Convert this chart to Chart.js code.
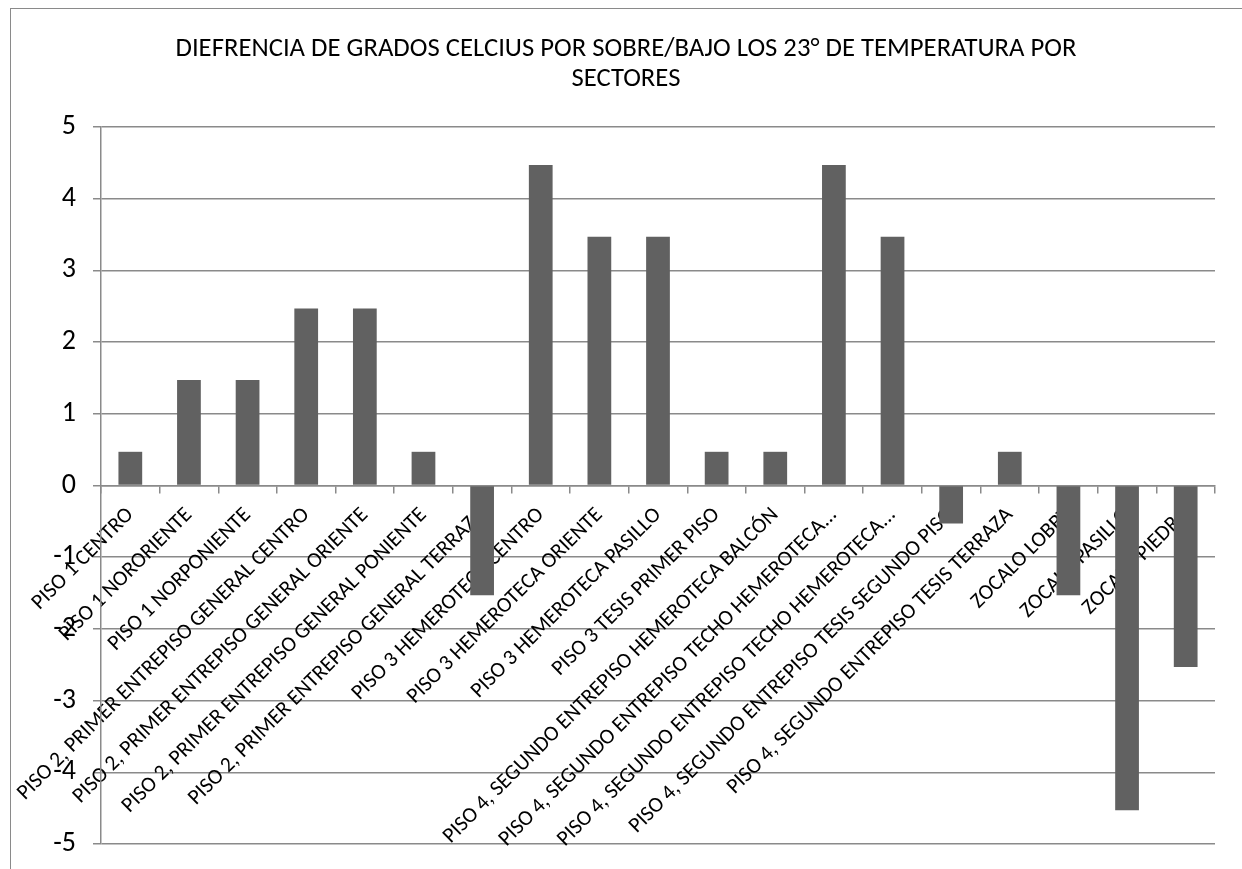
<!DOCTYPE html>
<html lang="es">
<head>
<meta charset="utf-8">
<title>Diferencia de grados por sectores</title>
<script src="https://cdn.jsdelivr.net/npm/chart.js@4.4.1/dist/chart.umd.min.js"></script>
<style>
    html, body { margin: 0; padding: 0; background: #fff; overflow: hidden; }
    #wrap { position: relative; width: 1242px; height: 869px; }
    /* marco del gráfico (solo se ven el borde izquierdo y el superior) */
    #frame { position: absolute; left: 10px; top: 8px; width: 1400px; height: 1000px;
             border: 1.5px solid #8a8a8a; box-sizing: border-box; }
    #chart-canvas { position: absolute; left: 0; top: 0; }
</style>
</head>
<body>
<div id="wrap">
    <div id="frame"></div>
    <canvas id="chart-canvas" width="1242" height="869"></canvas>
</div>
<script>
// categorías (eje X)
const sectores = [
    'PISO 1 CENTRO',
    'PISO 1 NORORIENTE',
    'PISO 1 NORPONIENTE',
    'PISO 2, PRIMER ENTREPISO GENERAL CENTRO',
    'PISO 2, PRIMER ENTREPISO GENERAL ORIENTE',
    'PISO 2, PRIMER ENTREPISO GENERAL PONIENTE',
    'PISO 2, PRIMER ENTREPISO GENERAL TERRAZA',
    'PISO 3 HEMEROTECA CENTRO',
    'PISO 3 HEMEROTECA ORIENTE',
    'PISO 3 HEMEROTECA PASILLO',
    'PISO 3 TESIS PRIMER PISO',
    'PISO 4, SEGUNDO ENTREPISO HEMEROTECA BALCÓN',
    'PISO 4, SEGUNDO ENTREPISO TECHO HEMEROTECA...',
    'PISO 4, SEGUNDO ENTREPISO TECHO HEMEROTECA...',
    'PISO 4, SEGUNDO ENTREPISO TESIS SEGUNDO PISO',
    'PISO 4, SEGUNDO ENTREPISO TESIS TERRAZA',
    'ZOCALO LOBBY',
    'ZOCALO PASILLO',
    'ZOCALO PIEDRA'
];

// diferencia en grados respecto a 23°
const diferencia = [
    0.47, 1.47, 1.47, 2.47, 2.47, 0.47, -1.53,
    4.47, 3.47, 3.47, 0.47, 0.47, 4.47, 3.47,
    -0.53, 0.47, -1.53, -4.53, -2.53
];

// eje Y
const yMin = -5;
const yMax = 5;
const yPaso = 1;

const titulo = [
    'DIEFRENCIA DE GRADOS CELCIUS POR SOBRE/BAJO LOS 23° DE TEMPERATURA POR',
    'SECTORES'
];

const FUENTE = "Carlito, 'Liberation Sans Narrow', 'Liberation Sans', sans-serif";
const GRIS = '#8a8a8a';

// quita el relleno automático que los ejes piden para sus etiquetas
function sinRelleno(scale) {
    scale.paddingLeft = 0;
    scale.paddingRight = 0;
    scale.paddingTop = 0;
    scale.paddingBottom = 0;
}

const ctx = document.getElementById('chart-canvas').getContext('2d');

new Chart(ctx, {
    type: 'bar',
    data: {
        labels: sectores,
        datasets: [{
            data: diferencia,
            backgroundColor: '#616161',
            borderWidth: 0,
            barPercentage: 0.405,
            categoryPercentage: 1
        }]
    },
    options: {
        responsive: false,
        animation: false,
        layout: {
            padding: { left: 10, top: 0, right: 0, bottom: 25 }
        },
        plugins: {
            legend: { display: false },
            tooltip: { enabled: false },
            title: {
                display: true,
                text: titulo,
                color: '#000',
                font: { family: FUENTE, size: 26.7, weight: 'normal', lineHeight: '30px' },
                padding: { top: 34, bottom: 33 }
            }
        },
        scales: {
            x: {
                position: { y: 0 }, // el eje X cruza en cero
                z: 1,
                afterFit: (scale) => {
                    sinRelleno(scale);
                    scale.paddingRight = 27; // margen derecho del área de trazado
                },
                grid: {
                    display: true,
                    drawOnChartArea: false,
                    drawTicks: true,
                    tickLength: 7,
                    color: GRIS,
                    lineWidth: 1.5
                },
                border: { display: true, color: GRIS, width: 1.5 },
                ticks: {
                    autoSkip: false,
                    maxRotation: 45,
                    minRotation: 45,
                    padding: 10,
                    color: '#000',
                    font: { family: FUENTE, size: 21.6 }
                }
            },
            y: {
                min: yMin,
                max: yMax,
                afterFit: (scale) => {
                    scale.width = 91;
                    sinRelleno(scale);
                },
                grid: {
                    color: GRIS,
                    lineWidth: 1.5,
                    drawTicks: true,
                    tickLength: 8
                },
                border: { display: true, color: GRIS, width: 1.5 },
                ticks: {
                    stepSize: yPaso,
                    padding: 17,
                    color: '#000',
                    font: { family: FUENTE, size: 28 }
                }
            }
        }
    }
});
</script>
</body>
</html>
